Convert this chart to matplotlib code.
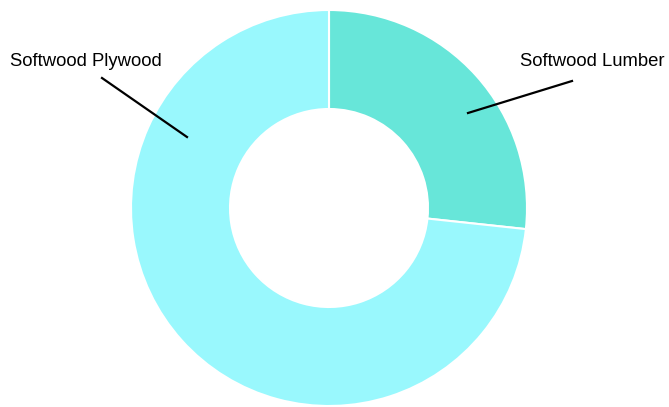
import matplotlib.pyplot as plt

labels = ['Softwood Lumber', 'Softwood Plywood']
values = [26.7, 73.3]
colors = ['#67e6d9', '#99f8fd']

plt.rcParams['font.family'] = ['Liberation Sans', 'DejaVu Sans']

fig = plt.figure(figsize=(6.69, 4.07), dpi=100)
ax = fig.add_axes([0, 0, 1, 1])
ax.set_xlim(0, 669)
ax.set_ylim(0, 407)
ax.set_aspect('equal')
ax.axis('off')

# donut, clockwise from 12 o'clock
wedges, _ = ax.pie(values, colors=colors, startangle=90, counterclock=False,
                   center=(329, 199), radius=198,
                   wedgeprops=dict(width=99, edgecolor='white', linewidth=1.5))
ax.set_xlim(0, 669)
ax.set_ylim(0, 407)

# leader lines and labels
ax.plot([468, 572], [407 - 113, 407 - 81], color='black', lw=1.6)
ax.text(520, 407 - 62, labels[0], fontsize=13.3, va='center', ha='left')
ax.plot([102, 187], [407 - 78, 407 - 137], color='black', lw=1.6)
ax.text(10, 407 - 62, labels[1], fontsize=13.3, va='center', ha='left')

fig.savefig('out.png', dpi=100)
